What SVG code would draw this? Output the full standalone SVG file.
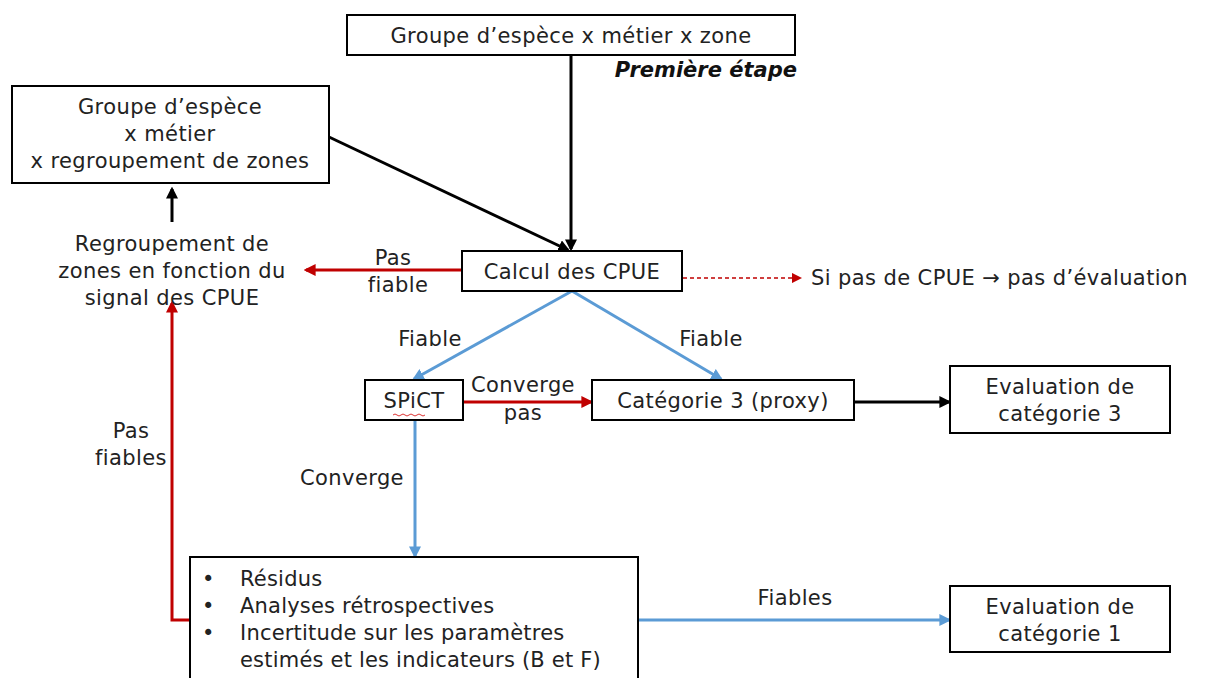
<svg xmlns="http://www.w3.org/2000/svg" width="1205" height="678" viewBox="0 0 1205 678">
<style>
.box{fill:#fff;stroke:#000;stroke-width:2}
.t{font-family:"DejaVu Sans",sans-serif;font-size:21px;letter-spacing:0.4px;fill:#222;text-anchor:middle}
.ts{font-family:"DejaVu Sans",sans-serif;font-size:21px;letter-spacing:0.4px;fill:#222}
.bk{stroke:#000;stroke-width:3;fill:none}
.rd{stroke:#C00000;stroke-width:3;fill:none}
.bl{stroke:#5B9BD5;stroke-width:3;fill:none}
</style>
<defs>
<marker id="ab" viewBox="0 0 10 10" refX="8" refY="5" markerWidth="4" markerHeight="4" orient="auto" markerUnits="strokeWidth"><path d="M0,0 L10,5 L0,10 z" fill="#000"/></marker>
<marker id="ar" viewBox="0 0 10 10" refX="8" refY="5" markerWidth="4" markerHeight="4" orient="auto" markerUnits="strokeWidth"><path d="M0,0 L10,5 L0,10 z" fill="#C00000"/></marker>
<marker id="ard" viewBox="0 0 10 10" refX="8" refY="5" markerWidth="7" markerHeight="7" orient="auto" markerUnits="strokeWidth"><path d="M0,0 L10,5 L0,10 z" fill="#C00000"/></marker>
<marker id="abl" viewBox="0 0 10 10" refX="8" refY="5" markerWidth="4" markerHeight="4" orient="auto" markerUnits="strokeWidth"><path d="M0,0 L10,5 L0,10 z" fill="#5B9BD5"/></marker>
</defs>
<rect width="1205" height="678" fill="#fff"/>
<g id="connectors">
<line class="bk" x1="571" y1="55" x2="571" y2="249" marker-end="url(#ab)"/>
<line class="bk" x1="329" y1="137" x2="568" y2="250" marker-end="url(#ab)"/>
<line class="bk" x1="172" y1="222" x2="172" y2="189" marker-end="url(#ab)"/>
<line class="rd" x1="462" y1="270" x2="306" y2="270" marker-end="url(#ar)"/>
<line x1="683" y1="278" x2="800" y2="278" stroke="#C00000" stroke-width="1.5" stroke-dasharray="4,3" marker-end="url(#ard)"/>
<line class="bl" x1="572" y1="291" x2="414" y2="379" marker-end="url(#abl)"/>
<line class="bl" x1="572" y1="291" x2="721" y2="379" marker-end="url(#abl)"/>
<line class="rd" x1="463" y1="402" x2="591" y2="402" marker-end="url(#ar)"/>
<line class="bk" x1="854" y1="402" x2="949" y2="402" marker-end="url(#ab)"/>
<line class="bl" x1="415" y1="420" x2="415" y2="556" marker-end="url(#abl)"/>
<polyline class="rd" points="190,620 172,620 172,303" marker-end="url(#ar)"/>
<line class="bl" x1="638" y1="620" x2="949" y2="620" marker-end="url(#abl)"/>
</g>
<g id="labels">
<text class="t" x="393" y="265">Pas</text>
<text class="t" x="398" y="292">fiable</text>
<text class="t" x="430" y="346">Fiable</text>
<text class="t" x="711" y="346">Fiable</text>
<text class="t" x="523" y="392">Converge</text>
<text class="t" x="523" y="420">pas</text>
<text class="t" x="352" y="485">Converge</text>
<text class="t" x="131" y="438">Pas</text>
<text class="t" x="131" y="465">fiables</text>
<text class="t" x="795" y="605">Fiables</text>
<text class="ts" x="811" y="285">Si pas de CPUE → pas d’évaluation</text>
<text x="797" y="77" font-family="DejaVu Sans,sans-serif" font-size="21" font-weight="bold" font-style="italic" fill="#111" text-anchor="end">Première étape</text>
</g>
<g id="n_top"><rect class="box" x="347" y="15" width="448" height="40"/><text class="t" x="571" y="43">Groupe d’espèce x métier x zone</text></g>
<g id="n_left"><rect class="box" x="12" y="86" width="317" height="97"/>
<text class="t" x="170" y="114">Groupe d’espèce</text><text class="t" x="170" y="141">x métier</text><text class="t" x="170" y="168">x regroupement de zones</text></g>
<g id="n_regroup"><text class="t" x="172" y="251">Regroupement de</text><text class="t" x="172" y="278">zones en fonction du</text><text class="t" x="172" y="305">signal des CPUE</text></g>
<g id="n_calcul"><rect class="box" x="462" y="251" width="220" height="40"/><text class="t" x="572" y="279">Calcul des CPUE</text></g>
<g id="n_spict"><rect class="box" x="365" y="380" width="98" height="40"/><text class="t" x="414" y="408">SPiCT</text>
<path d="M393,415 q2,-2 4,0 t4,0 t4,0 t4,0 t4,0 t4,0 t4,0 t4,0" stroke="#d33" stroke-width="1" fill="none"/></g>
<g id="n_cat3"><rect class="box" x="592" y="380" width="262" height="40"/><text class="t" x="723" y="408">Catégorie 3 (proxy)</text></g>
<g id="n_eval3"><rect class="box" x="950" y="366" width="220" height="67"/><text class="t" x="1060" y="394">Evaluation de</text><text class="t" x="1060" y="421">catégorie 3</text></g>
<g id="n_diag"><rect class="box" x="190" y="557" width="448" height="130"/>
<g font-family="DejaVu Sans,sans-serif" font-size="21" letter-spacing="0.2" fill="#222">
<text x="202" y="586">•</text><text x="240" y="586">Résidus</text>
<text x="202" y="613">•</text><text x="240" y="613">Analyses rétrospectives</text>
<text x="202" y="640">•</text><text x="240" y="640">Incertitude sur les paramètres</text>
<text x="240" y="667">estimés et les indicateurs (B et F)</text></g></g>
<g id="n_eval1"><rect class="box" x="950" y="586" width="220" height="66"/><text class="t" x="1060" y="614">Evaluation de</text><text class="t" x="1060" y="641">catégorie 1</text></g>
</svg>
